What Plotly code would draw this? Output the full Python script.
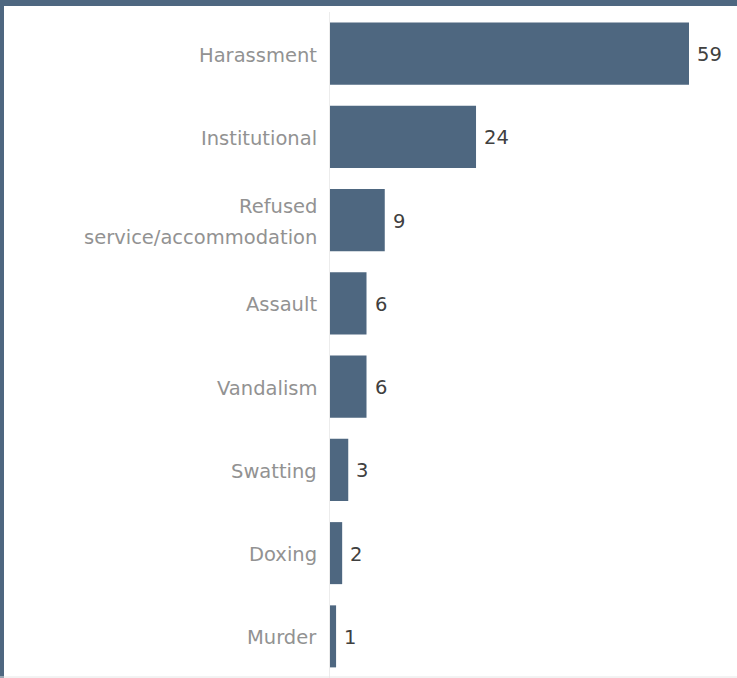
import plotly.graph_objects as go

categories = ["Harassment", "Institutional", "Refused<br>service/accommodation", "Assault",
              "Vandalism", "Swatting", "Doxing", "Murder"]
values = [59, 24, 9, 6, 6, 3, 2, 1]

W, H = 737, 678
L, R, T, B = 330, 0, 12, 0
pw, ph = W - L - R, H - T - B

bar_color = "#4e6780"
FONT = "DejaVu Sans"

fig = go.Figure(go.Bar(
    x=values, y=categories, orientation="h",
    marker=dict(color=bar_color, line=dict(width=0)),
    hoverinfo="skip",
))

annotations = []
for cat, v in zip(categories, values):
    lines = cat.split("<br>")
    n = len(lines)
    for i, ln in enumerate(lines):
        annotations.append(dict(
            x=0, y=cat, xref="paper", yref="y", text=ln, showarrow=False,
            xanchor="right", yanchor="middle", xshift=-11,
            yshift=((n - 1) / 2 - i) * 31 - 1.5,
            font=dict(family=FONT, size=19.5, color="#929292")))
    annotations.append(dict(
        x=v, y=cat, xref="x", yref="y", text=str(v), showarrow=False,
        xanchor="left", yanchor="middle", xshift=6, yshift=-1,
        font=dict(family=FONT, size=19.5, color="#404040")))

fig.update_layout(
    width=W, height=H,
    margin=dict(l=L, r=R, t=T, b=B),
    paper_bgcolor="white", plot_bgcolor="white",
    bargap=0.255,
    showlegend=False,
    annotations=annotations,
    xaxis=dict(range=[0, pw / (359 / 59)], showgrid=False, zeroline=False,
               showticklabels=False, showline=False, fixedrange=True),
    yaxis=dict(autorange="reversed", showgrid=False, zeroline=False,
               showline=True, linecolor="#ececec", linewidth=1,
               showticklabels=False, ticks=""),
    shapes=[
        dict(type="rect", xref="paper", yref="paper",
             x0=-L / pw, x1=1 + R / pw, y0=1 + (T - 6) / ph, y1=1 + T / ph,
             fillcolor=bar_color, line=dict(width=0), layer="above"),
        dict(type="rect", xref="paper", yref="paper",
             x0=-L / pw, x1=-(L - 4) / pw, y0=-B / ph, y1=1 + T / ph,
             fillcolor=bar_color, line=dict(width=0), layer="above"),
        dict(type="line", xref="paper", yref="paper",
             x0=-L / pw, x1=1, y0=1 / ph, y1=1 / ph,
             line=dict(color="#e6e6e6", width=1)),
    ],
)

fig.write_html("out.html",
               config={"displayModeBar": False, "staticPlot": True},
               post_script="document.body.style.margin='0';document.body.style.overflow='hidden';")
